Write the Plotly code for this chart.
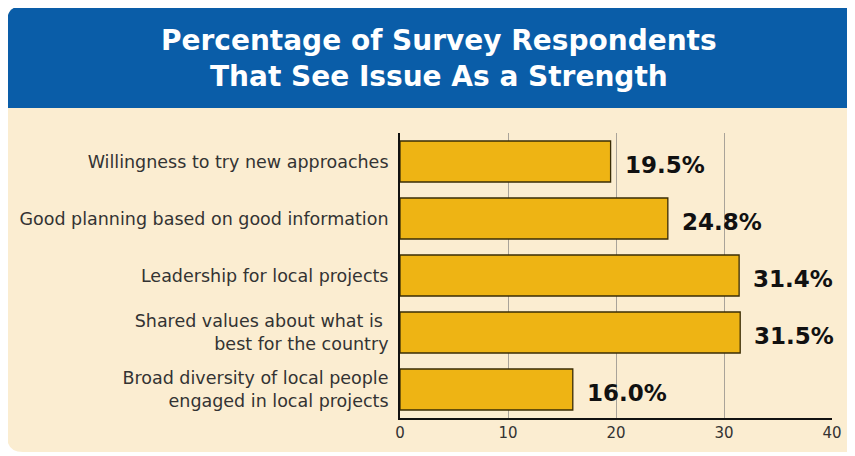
import plotly.graph_objects as go

categories = [
    "Willingness to try new approaches",
    "Good planning based on good information",
    "Leadership for local projects",
    "Shared values about what is <br>best for the country",
    "Broad diversity of local people<br>engaged in local projects",
]
values = [19.5, 24.8, 31.4, 31.5, 16.0]
value_labels = ["19.5%", "24.8%", "31.4%", "31.5%", "16.0%"]
x_ticks = [0, 10, 20, 30, 40]
title_text = "Percentage of Survey Respondents<br>That See Issue As a Strength"

# page body has an 8px margin; work in reference pixel coords and shift
OFF = 8
W, H = 855 - OFF, 456 - OFF
PL, PR, PT, PB = 400, 832, 133, 418

def px(x):
    return (x - PL) / (PR - PL)

def py(y):
    return (PB - y) / (PB - PT)

def rounded_path(x0, y0, x1, y1, r, top=True, bottom=True):
    pts = []
    if top:
        pts.append(f"M{px(x0)},{py(y0 + r)}")
        pts.append(f"Q{px(x0)},{py(y0)} {px(x0 + r)},{py(y0)}")
        pts.append(f"L{px(x1 - r)},{py(y0)}")
        pts.append(f"Q{px(x1)},{py(y0)} {px(x1)},{py(y0 + r)}")
    else:
        pts.append(f"M{px(x0)},{py(y0)}")
        pts.append(f"L{px(x1)},{py(y0)}")
    if bottom:
        pts.append(f"L{px(x1)},{py(y1 - r)}")
        pts.append(f"Q{px(x1)},{py(y1)} {px(x1 - r)},{py(y1)}")
        pts.append(f"L{px(x0 + r)},{py(y1)}")
        pts.append(f"Q{px(x0)},{py(y1)} {px(x0)},{py(y1 - r)}")
    else:
        pts.append(f"L{px(x1)},{py(y1)}")
        pts.append(f"L{px(x0)},{py(y1)}")
    pts.append("Z")
    return " ".join(pts)

fig = go.Figure()
fig.add_trace(go.Bar(
    x=values, y=categories, orientation="h",
    marker=dict(color="#EEB414", line=dict(color="#3A2C05", width=1.3)),
    width=0.72, hoverinfo="skip",
))

for c, v, t in zip(categories, values, value_labels):
    fig.add_annotation(x=v, y=c, text=f"<b>{t}</b>", showarrow=False,
                       xanchor="left", xshift=12, yshift=-3,
                       font=dict(family="DejaVu Sans", size=23, color="#111111"))

fig.add_shape(type="path", xref="paper", yref="paper", layer="below",
              path=rounded_path(7, 6, 880, 452, 16),
              fillcolor="#FBEDD1", line=dict(width=0))
fig.add_shape(type="path", xref="paper", yref="paper", layer="below",
              path=rounded_path(7, 6, 880, 108, 16, top=True, bottom=False),
              fillcolor="#0A5DA8", line=dict(width=0))

fig.add_annotation(xref="paper", yref="paper", x=px(439), y=py(58),
                   text=f"<b>{title_text}</b>", showarrow=False,
                   xanchor="center", yanchor="middle",
                   font=dict(family="DejaVu Sans", size=28, color="white"))

fig.update_layout(
    width=W, height=H,
    margin=dict(l=PL - OFF, r=855 - PR, t=PT - OFF, b=456 - PB, pad=0),
    paper_bgcolor="white", plot_bgcolor="rgba(0,0,0,0)",
    showlegend=False, bargap=0.28,
    xaxis=dict(range=[0, 40], tickvals=x_ticks, showgrid=True, automargin=False,
               gridcolor="#A9A399", gridwidth=1.3, zeroline=False,
               showline=True, linecolor="#111111", linewidth=2,
               ticks="", tickfont=dict(family="DejaVu Sans", size=15, color="#333333"),
               fixedrange=True),
    yaxis=dict(autorange="reversed", showline=True, linecolor="#111111",
               linewidth=2, ticks="", ticklabelstandoff=6, automargin=False,
               tickfont=dict(family="DejaVu Sans", size=17.5, color="#333333"),
               fixedrange=True),
)

fig.write_html("out.html")
